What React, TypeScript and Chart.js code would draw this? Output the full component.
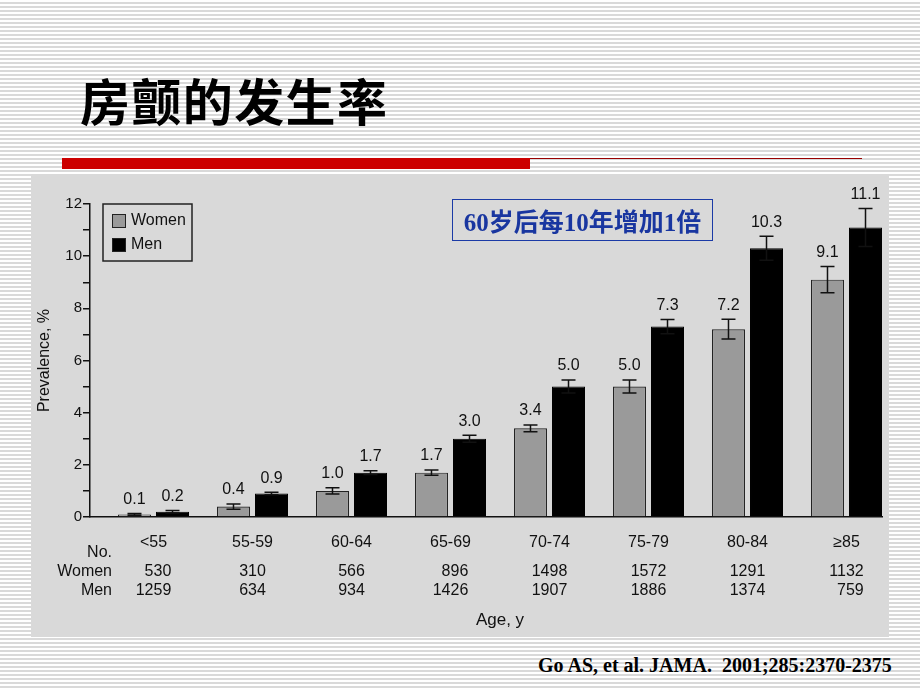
import { useEffect, useRef } from "react";
import { Chart, registerables } from "chart.js";

Chart.register(...registerables);

const categories = ["<55", "55-59", "60-64", "65-69", "70-74", "75-79", "80-84", "≥85"];
const womenValues = [0.1, 0.4, 1.0, 1.7, 3.4, 5.0, 7.2, 9.1];
const menValues = [0.2, 0.9, 1.7, 3.0, 5.0, 7.3, 10.3, 11.1];
const womenErrors = [0.03, 0.1, 0.12, 0.1, 0.13, 0.25, 0.38, 0.5];
const menErrors = [0.05, 0.05, 0.07, 0.13, 0.25, 0.27, 0.46, 0.73];
const womenCounts = ["530", "310", "566", "896", "1498", "1572", "1291", "1132"];
const menCounts = ["1259", "634", "934", "1426", "1907", "1886", "1374", "759"];
const yTickValues = [0, 1, 2, 3, 4, 5, 6, 7, 8, 9, 10, 11, 12];
const yTickLabels = ["0", "", "2", "", "4", "", "6", "", "8", "", "10", "", "12"];
const tableRowLabels = ["No.", "Women", "Men"];
const seriesLabels = ["Women", "Men"];
const X_MIN = -0.6414;
const X_MAX = 7.3586;

const FONT = "'Liberation Sans', Arial, Helvetica, sans-serif";
const INK = "#111111";

export default function App() {
  const ref = useRef<HTMLCanvasElement | null>(null);

  useEffect(() => {
    const canvas = ref.current;
    if (!canvas) return;
    Chart.defaults.font.family = FONT;
    Chart.defaults.color = INK;

    const overlay = {
      id: "overlay",
      afterDatasetsDraw(chart: any) {
        const ctx = chart.ctx as CanvasRenderingContext2D;
        const ys = chart.scales.y;
        const xs = chart.scales.x;
        const a = chart.chartArea;
        const vals = [womenValues, menValues];
        const errs = [womenErrors, menErrors];
        ctx.save();
        // error bars and value labels
        chart.data.datasets.forEach((_ds: any, d: number) => {
          const meta = chart.getDatasetMeta(d);
          meta.data.forEach((bar: any, i: number) => {
            const v = vals[d][i];
            const e = errs[d][i];
            const top = ys.getPixelForValue(v + e);
            const bot = ys.getPixelForValue(v - e);
            ctx.strokeStyle = INK;
            ctx.lineWidth = 1.5;
            ctx.beginPath();
            ctx.moveTo(bar.x, top);
            ctx.lineTo(bar.x, bot);
            ctx.moveTo(bar.x - 7, top);
            ctx.lineTo(bar.x + 7, top);
            ctx.moveTo(bar.x - 7, bot);
            ctx.lineTo(bar.x + 7, bot);
            ctx.stroke();
            ctx.fillStyle = INK;
            ctx.font = `16px ${FONT}`;
            ctx.textAlign = "center";
            ctx.textBaseline = "middle";
            ctx.fillText(v.toFixed(1), bar.x, top - 14);
          });
        });

        // legend
        const lx = a.left + 13;
        const ly = a.top;
        ctx.lineWidth = 1.5;
        ctx.strokeStyle = "#222";
        ctx.strokeRect(lx, ly, 89, 57);
        chart.data.datasets.forEach((ds: any, d: number) => {
          const sy = ly + 10 + d * 24;
          ctx.fillStyle = ds.backgroundColor;
          ctx.fillRect(lx + 9, sy, 14, 14);
          ctx.lineWidth = 1;
          ctx.strokeStyle = "#222";
          ctx.strokeRect(lx + 9.5, sy + 0.5, 13, 13);
          ctx.fillStyle = INK;
          ctx.font = `16px ${FONT}`;
          ctx.textAlign = "left";
          ctx.textBaseline = "middle";
          ctx.fillText(ds.label, lx + 28, sy + 7);
        });

        // table of counts
        ctx.font = `16px ${FONT}`;
        ctx.fillStyle = INK;
        ctx.textBaseline = "middle";
        const rowYs = [a.bottom + 36, a.bottom + 55, a.bottom + 74];
        ctx.textAlign = "right";
        tableRowLabels.forEach((t, r) => ctx.fillText(t, a.left + 22, rowYs[r]));
        categories.forEach((_c, i) => {
          const cx = xs.getPixelForValue(i);
          const w = Math.max(ctx.measureText(womenCounts[i]).width, ctx.measureText(menCounts[i]).width);
          const right = cx + w / 2;
          ctx.fillText(womenCounts[i], right, rowYs[1]);
          ctx.fillText(menCounts[i], right, rowYs[2]);
        });

        // x axis title centred on category range
        const mid = (xs.getPixelForValue(0) + xs.getPixelForValue(categories.length - 1)) / 2;
        ctx.textAlign = "center";
        ctx.font = `17px ${FONT}`;
        ctx.fillText("Age, y", mid, a.bottom + 103);
        ctx.restore();
      },
    };

    const chart = new Chart(canvas, {
      type: "bar",
      data: {
        datasets: [
          {
            label: seriesLabels[0],
            data: womenValues.map((v, i) => ({ x: i, y: v })),
            backgroundColor: "#9a9a9a",
            borderColor: "#222222",
            borderWidth: 1.2,
            categoryPercentage: 0.768,
            barPercentage: 0.868,
          },
          {
            label: seriesLabels[1],
            data: menValues.map((v, i) => ({ x: i, y: v })),
            backgroundColor: "#000000",
            borderColor: "#000000",
            borderWidth: 1,
            categoryPercentage: 0.768,
            barPercentage: 0.868,
          },
        ],
      } as any,
      options: {
        responsive: false,
        animation: false,
        layout: { padding: { left: 0, right: 7, top: 28, bottom: 0 } },
        plugins: { legend: { display: false }, tooltip: { enabled: false } },
        scales: {
          x: {
            type: "linear",
            offset: false,
            bounds: "data",
            min: X_MIN,
            max: X_MAX,
            afterBuildTicks: (s: any) => {
              s.min = X_MIN;
              s.max = X_MAX;
              s.ticks = categories.map((_c, i) => ({ value: i }));
            },
            afterFit: (s: any) => {
              s.height = 120;
            },
            grid: { display: false, offset: false },
            border: { display: true, color: INK, width: 1.5 },
            ticks: {
              callback: (v: any) => categories[v] ?? "",
              font: { size: 16, family: FONT },
              color: INK,
              padding: 8,
              maxRotation: 0,
              autoSkip: false,
            },
          },
          y: {
            type: "linear",
            min: 0,
            max: 12,
            afterBuildTicks: (s: any) => {
              s.ticks = yTickValues.map((v) => ({ value: v }));
            },
            afterFit: (s: any) => {
              s.width = 59;
            },
            grid: { drawOnChartArea: false, drawTicks: true, tickLength: 7, color: INK, lineWidth: 1.5 },
            border: { display: true, color: INK, width: 1.5 },
            ticks: {
              callback: (_v: any, idx: number) => yTickLabels[idx] ?? "",
              font: { size: 15, family: FONT },
              color: INK,
              padding: 1,
              autoSkip: false,
            },
            title: {
              display: true,
              text: "Prevalence, %",
              font: { size: 16, family: FONT },
              color: INK,
              padding: { top: 4, bottom: 0 },
            },
          },
        },
      } as any,
      plugins: [overlay],
    });
    return () => chart.destroy();
  }, []);

  return (
    <div
      style={{
        position: "fixed",
        left: 0,
        top: 0,
        width: 920,
        height: 690,
        overflow: "hidden",
        background:
          "repeating-linear-gradient(to bottom, #ffffff 0px, #ffffff 2.5px, #d9d9d9 2.5px, #d9d9d9 4px)",
      }}
    >
      <div
        style={{
          position: "absolute",
          left: 80,
          top: 74,
          fontFamily: "'Noto Sans CJK SC', sans-serif",
          fontWeight: 700,
          fontSize: 50,
          lineHeight: "50px",
          letterSpacing: 1.4,
          color: "#000",
          whiteSpace: "nowrap",
        }}
      >
        房颤的发生率
      </div>
      <div style={{ position: "absolute", left: 62, top: 158, width: 468, height: 11, background: "#cc0000" }} />
      <div style={{ position: "absolute", left: 530, top: 158, width: 332, height: 1, background: "#990000" }} />
      <div
        style={{
          position: "absolute",
          left: 31,
          top: 176,
          width: 858,
          height: 461,
          background: "#d9d9d9",
        }}
      >
        <canvas ref={ref} width={858} height={461} style={{ width: 858, height: 461, display: "block" }} />
        <div
          style={{
            position: "absolute",
            left: 421,
            top: 23,
            width: 261,
            height: 42,
            boxSizing: "border-box",
            border: "1px solid #1b3aa6",
            display: "flex",
            alignItems: "center",
            justifyContent: "center",
            fontFamily: "'Liberation Serif', 'Noto Sans CJK SC', serif",
            fontWeight: 700,
            fontSize: 25,
            color: "#1936a0",
            whiteSpace: "nowrap",
          }}
        >
          60岁后每10年增加1倍
        </div>
      </div>
      <div
        style={{
          position: "absolute",
          left: 538,
          top: 653,
          fontFamily: "'Liberation Serif', 'Times New Roman', serif",
          fontWeight: 700,
          fontSize: 20,
          lineHeight: "24px",
          color: "#000",
          whiteSpace: "pre",
        }}
      >
        {"Go AS, et al. JAMA.  2001;285:2370-2375"}
      </div>
    </div>
  );
}
